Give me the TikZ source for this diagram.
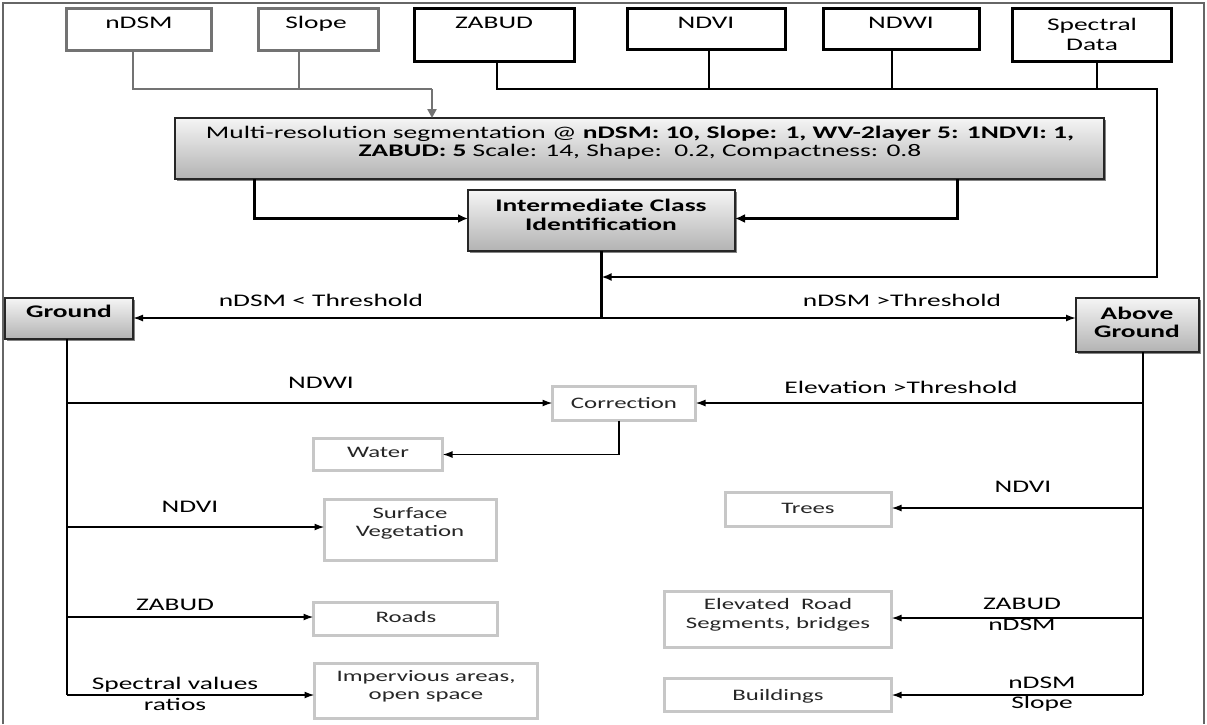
\documentclass[tikz,border=0pt]{standalone}
\usepackage{fontspec}
\setmainfont{Carlito}[FakeStretch=1.55]
\usetikzlibrary{arrows.meta,shadows}
\begin{document}
\begin{tikzpicture}[x=1pt,y=-1pt,
  every node/.style={inner sep=0pt, outer sep=0pt},
  srcgray/.style={draw=black!55, line width=2.6pt, fill=white},
  srcblack/.style={draw=black, line width=2.6pt, fill=white},
  stepshade/.style={draw=black!85, line width=1.3pt, top color=black!4, bottom color=black!30,
    drop shadow={shadow xshift=1.6pt, shadow yshift=-1.6pt, fill=black!60, opacity=0.8}},
  result/.style={draw=black!22, line width=2.6pt, fill=white},
  % single-line text: the given point is the middle of the capitals
  txt/.style={font=\fontsize{17.7}{19}\selectfont, anchor=base, yshift=-5.6pt},
  txtm/.style={font=\fontsize{17.7}{#1}\selectfont, align=center},
  txtm/.default=19,
  btxt/.style={txt, font=\fontsize{17.7}{19}\selectfont\bfseries},
  btxtm/.style={font=\fontsize{17.7}{#1}\selectfont\bfseries, align=center},
  btxtm/.default=19,
  rtxt/.style={font=\fontsize{16}{18}\selectfont, text=black!85, anchor=base, yshift=-5pt},
  rtxtm/.style={font=\fontsize{16}{#1}\selectfont, text=black!85, align=center},
  rtxtm/.default=18,
  grayline/.style={draw=black!55, line width=2.6pt},
  grayarr/.style={draw=black!55, fill=black!55, line width=2.6pt, -{Triangle[length=9pt,width=9pt]}},
  busline/.style={draw=black, line width=2.4pt},
  busarr/.style={draw=black, line width=2.4pt, -{Latex[length=10pt,width=8pt]}},
  thickarr/.style={draw=black, line width=3pt, -{Latex[length=10pt,width=9pt]}},
  trunk/.style={draw=black, line width=2.2pt},
  flow/.style={draw=black, line width=1.6pt, -{Latex[length=10pt,width=7pt]}}
]
\useasboundingbox (0,0) rectangle (1207,724);
\fill[white] (0,0) rectangle (1207,724);

% outer frame
\draw[black!60, line width=2pt] (3,724) -- (3,3) -- (1204,3) -- (1204,724);

% input layers
\node[srcgray, minimum width=145pt, minimum height=42pt] (ndsm) at (139,29.5) {};
\node[txt] (ndsmT) at (139,23) {nDSM};
\node[srcgray, minimum width=120pt, minimum height=42pt] (slope) at (318.5,29.5) {};
\node[txt] (slopeT) at (316,23) {Slope};
\node[srcblack, minimum width=160pt, minimum height=53pt] (zabud) at (494.5,35) {};
\node[txt] (zabudT) at (494,23) {ZABUD};
\node[srcblack, minimum width=158pt, minimum height=41pt] (ndvi) at (706.5,29) {};
\node[txt] (ndviT) at (706,23) {NDVI};
\node[srcblack, minimum width=156pt, minimum height=41pt] (ndwi) at (901.5,29) {};
\node[txt] (ndwiT) at (901,23) {NDWI};
\node[srcblack, minimum width=159pt, minimum height=53pt] (spec) at (1092,35) {};
\node[txtm=20] (specT) at (1092,34) {Spectral\\Data};

% segmentation and intermediate classes
\node[stepshade, minimum width=929pt, minimum height=61pt] (seg) at (639.5,148.5) {};
\node[txtm=18] (segT) at (640,143) {Multi-resolution segmentation @ \textbf{nDSM: 10, Slope: 1, WV-2layer 5: 1NDVI: 1,}\\\textbf{ZABUD: 5} Scale: 14, Shape:\ \ 0.2, Compactness: 0.8};
\node[stepshade, minimum width=267pt, minimum height=61pt] (inter) at (601.5,220.5) {};
\node[btxtm=19] (interT) at (601,215) {Intermediate Class\\Identification};
\node[stepshade, minimum width=128pt, minimum height=41pt] (ground) at (69,318.5) {};
\node[btxt] (groundT) at (69,312) {Ground};
\node[stepshade, minimum width=123pt, minimum height=54pt] (above) at (1137.5,325) {};
\node[btxtm=18] (aboveT) at (1137,322) {Above\\Ground};

% final classes
\node[result, minimum width=143pt, minimum height=34pt] (corr) at (624,403.5) {};
\node[rtxt] (corrT) at (624,403) {Correction};
\node[result, minimum width=129pt, minimum height=32pt] (water) at (378,454.5) {};
\node[rtxt] (waterT) at (378,452) {Water};
\node[result, minimum width=172pt, minimum height=61pt] (surf) at (410.5,530) {};
\node[rtxtm] (surfT) at (410,523) {Surface\\Vegetation};
\node[result, minimum width=184pt, minimum height=33pt] (roads) at (405.5,619) {};
\node[rtxt] (roadsT) at (406,617) {Roads};
\node[result, minimum width=223pt, minimum height=55pt] (imperv) at (426,691) {};
\node[rtxtm] (impervT) at (426,686) {Impervious areas,\\open space};
\node[result, minimum width=166pt, minimum height=34pt] (trees) at (808.5,509.5) {};
\node[rtxt] (treesT) at (808,508) {Trees};
\node[result, minimum width=227pt, minimum height=56pt] (elev) at (778,619.5) {};
\node[rtxtm=19] (elevT) at (778,614.5) {Elevated\ \ Road\\Segments, bridges};
\node[result, minimum width=227pt, minimum height=33pt] (build) at (778,695) {};
\node[rtxt] (buildT) at (778,695) {Buildings};

% inputs to segmentation
\coordinate (gbus) at (432,89);
\draw[grayline] ([xshift=-6pt]ndsm.south) |- (gbus);
\draw[grayline] ([xshift=-19.5pt]slope.south) -- ([xshift=-19.5pt]slope.south |- gbus);
\draw[grayarr] (gbus) -- (gbus |- seg.north);

\coordinate (bus) at (1157,89);
\coordinate (ret) at (1157,277);
\draw[busarr] ([xshift=2.5pt]zabud.south) |- (bus) -- (ret) -- (inter.south |- ret);
\draw[busline] ([xshift=2.5pt]ndvi.south) -- ([xshift=2.5pt]ndvi.south |- bus);
\draw[busline] ([xshift=-9.5pt]ndwi.south) -- ([xshift=-9.5pt]ndwi.south |- bus);
\draw[busline] ([xshift=5pt]spec.south) -- ([xshift=5pt]spec.south |- bus);

% segmentation to intermediate classes
\draw[thickarr] ([xshift=-385.5pt]seg.south) |- ([yshift=2pt]inter.west);
\draw[thickarr] ([xshift=317.5pt]seg.south) |- ([yshift=2pt]inter.east);

% split by height
\coordinate (split) at (601.5,318);
\draw[trunk] (inter.south) -- (split);
\draw[flow] (split) -- (ground.east |- split);
\draw[flow] (split) -- (above.west |- split);
\node[txt] (ltT) at (321,301) {nDSM < Threshold};
\node[txt] (gtT) at (902,301) {nDSM >Threshold};

% ground branch
\coordinate (g1) at (67,403);
\coordinate (g2) at (67,527);
\coordinate (g3) at (67,617);
\coordinate (g4) at (67,695);
\draw[trunk] (ground.south -| g1) -- (g4);
\draw[flow] (g1) -- (g1 -| corr.west);
\draw[flow] (g2) -- (g2 -| surf.west);
\draw[flow] (g3) -- (g3 -| roads.west);
\draw[flow] (g4) -- (g4 -| imperv.west);
\draw[flow] ([xshift=-5pt]corr.south) |- (water.east);
\node[txt] (l1) at (321,383) {NDWI};
\node[txt] (l2) at (190,507) {NDVI};
\node[txt] (l3) at (175,605) {ZABUD};
\node[txtm=21] (l4) at (175,693.5) {Spectral values\\ratios};

% above-ground branch
\coordinate (a1) at (1143,403);
\coordinate (a2) at (1143,508);
\coordinate (a3) at (1143,618);
\coordinate (a4) at (1143,695);
\draw[trunk] (above.south -| a1) -- (a4);
\draw[flow] (a1) -- (a1 -| corr.east);
\draw[flow] (a2) -- (a2 -| trees.east);
\draw[flow] (a3) -- (a3 -| elev.east);
\draw[flow] (a4) -- (a4 -| build.east);
\node[txt] (r1) at (901,388) {Elevation >Threshold};
\node[txt] (r2) at (1023,487) {NDVI};
\node[txtm=21] (r3) at (1022,614.5) {ZABUD\\nDSM};
\node[txtm=20] (r4) at (1042,694) {nDSM\\Slope};
\end{tikzpicture}
\end{document}
